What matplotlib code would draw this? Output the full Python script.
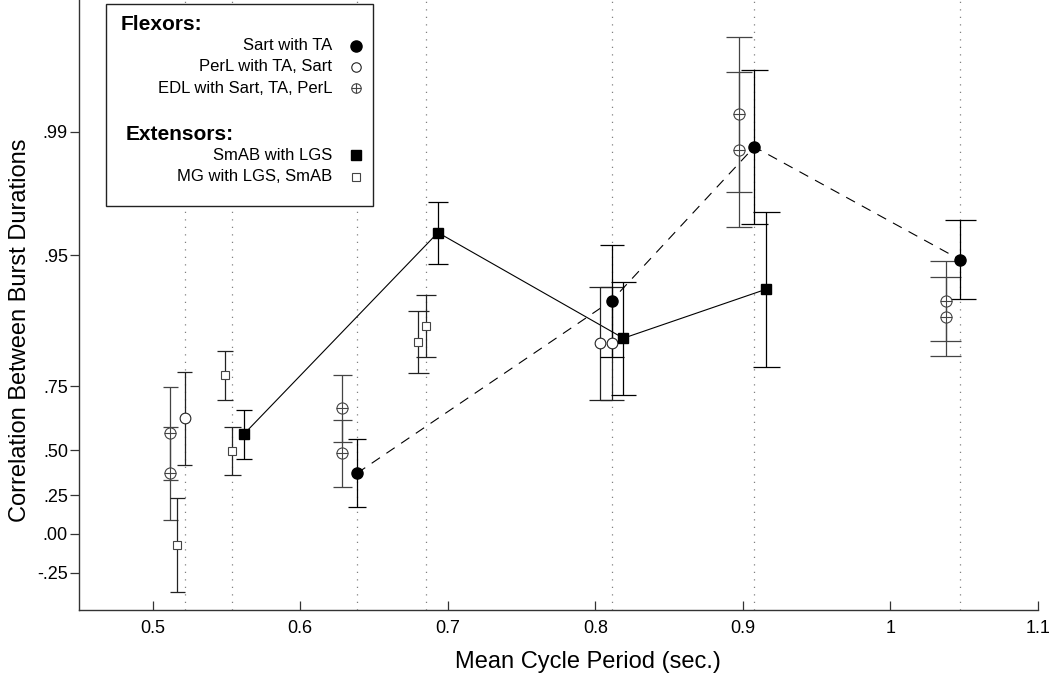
import numpy as np
import matplotlib
matplotlib.use('Agg')
import matplotlib.pyplot as plt
from matplotlib.lines import Line2D
from matplotlib.patches import Rectangle

plt.rcParams['font.family'] = ['Liberation Sans', 'DejaVu Sans']

# mean cycle period (sec.) of each group, shown as dotted guides
group_periods = [0.5217, 0.554, 0.6384, 0.6853, 0.811, 0.9077, 1.0474]

# Flexors
sart_x = [0.6384, 0.811, 0.9077, 1.0474]
sart_r = [0.3794, 0.91125, 0.98778, 0.94708]
sart_lo = [0.1777, 0.82185, 0.96672, 0.91282]
sart_hi = [0.5533, 0.95653, 0.99555, 0.96840]

perl_x = [0.5217, 0.8034, 0.811]
perl_r = [0.6417, 0.84959, 0.84959]
perl_lo = [0.4251, 0.70845, 0.70845]
perl_hi = [0.78788, 0.92564, 0.92564]

edl_x = [0.512, 0.512, 0.6285, 0.6285, 0.8975, 0.8975, 1.0375, 1.0375]
edl_r = [0.5800, 0.3794, 0.6789, 0.4861, 0.99203, 0.98729, 0.91125, 0.89158]
edl_lo = [0.3411, 0.0918, 0.5421, 0.3015, 0.97810, 0.96555, 0.85427, 0.82461]
edl_hi = [0.7465, 0.6081, 0.7803, 0.6351, 0.99710, 0.99539, 0.94617, 0.93400]

# Extensors
smab_x = [0.5617, 0.6933, 0.819, 0.9158]
smab_r = [0.5757, 0.96275, 0.85847, 0.92313]
smab_lo = [0.4569, 0.94409, 0.72332, 0.80072]
smab_hi = [0.6728, 0.97488, 0.92967, 0.97139]

mg_x = [0.5167, 0.5488, 0.554, 0.6801, 0.6853]
mg_r = [-0.0723, 0.77947, 0.4990, 0.85194, 0.87878]
mg_lo = [-0.3623, 0.70718, 0.3682, 0.78458, 0.82314]
mg_hi = [0.2307, 0.83546, 0.6081, 0.89866, 0.91742]

y_ticks = [-0.25, 0.0, 0.25, 0.50, 0.75, 0.95, 0.99]
y_labels = ['-.25', '.00', '.25', '.50', '.75', '.95', '.99']
x_ticks = [0.5, 0.6, 0.7, 0.8, 0.9, 1.0, 1.1]
x_labels = ['0.5', '0.6', '0.7', '0.8', '0.9', '1', '1.1']

W, H = 1052, 677
fig = plt.figure(figsize=(W / 100, H / 100), dpi=100)
ax = fig.add_axes([79 / W, 67 / H, (1038 - 79) / W, 610 / H])

# correlations plotted on a Fisher z scale
ax.set_yscale('function', functions=(np.arctanh, np.tanh))
ax.set_xlim(0.45, 1.1)
ax.set_ylim(-0.462, 0.99822)

for xp in group_periods:
    ax.axvline(xp, color='#808080', lw=0.9, ls=(0, (1, 5)), zorder=0)


def bars(x, lo, hi, color='black'):
    x = np.asarray(x)
    half = 0.01 * x  # cap half-width grows with x
    ax.vlines(x, lo, hi, color=color, lw=0.9, zorder=2)
    ax.hlines(lo, x - half, x + half, color=color, lw=0.9, zorder=2)
    ax.hlines(hi, x - half, x + half, color=color, lw=0.9, zorder=2)


ax.plot(sart_x, sart_r, color='black', lw=0.8, dashes=(9, 7), zorder=1)
ax.plot(smab_x, smab_r, color='black', lw=0.8, zorder=1)

bars(edl_x, edl_lo, edl_hi, '#444444')
bars(perl_x, perl_lo, perl_hi, '#222222')
bars(mg_x, mg_lo, mg_hi, '#222222')
bars(smab_x, smab_lo, smab_hi)
bars(sart_x, sart_lo, sart_hi)

ax.plot(edl_x, edl_r, 'o', ms=8, mfc='white', mec='#444444', mew=0.8, zorder=3)
ax.plot(edl_x, edl_r, '+', ms=8, mec='#444444', mew=0.8, zorder=4)
ax.plot(perl_x, perl_r, 'o', ms=7.7, mfc='white', mec='#222222', mew=0.8, zorder=3)
ax.plot(mg_x, mg_r, 's', ms=6.3, mfc='white', mec='#444444', mew=0.8, zorder=3)
ax.plot(smab_x, smab_r, 's', ms=6.5, color='black', zorder=4)
ax.plot(sart_x, sart_r, 'o', ms=8, color='black', zorder=4)

ax.set_yticks(y_ticks)
ax.set_yticklabels(y_labels)
ax.set_xticks(x_ticks)
ax.set_xticklabels(x_labels)
ax.yaxis.set_minor_locator(matplotlib.ticker.NullLocator())
ax.tick_params(axis='y', direction='out', length=6.5, width=0.9, pad=1.5,
               labelsize=13, color='#333333')
ax.tick_params(axis='x', direction='in', length=6.8, width=0.9, pad=7.5,
               labelsize=13, color='#333333')
for side in ('top', 'right'):
    ax.spines[side].set_visible(False)
for side in ('left', 'bottom'):
    ax.spines[side].set_color('#333333')
    ax.spines[side].set_linewidth(1.0)

ax.set_xlabel('Mean Cycle Period (sec.)', fontsize=17, va='center')
ax.xaxis.set_label_coords((588 - 79) / (1038 - 79), (610 - 662) / 610)
ax.set_ylabel('Correlation Between Burst Durations', fontsize=17, va='center')
ax.yaxis.set_label_coords((20 - 79) / (1038 - 79), (610 - 330) / 610)


def fx(px):
    return px / W


def fy(py):
    return 1 - py / H


# legend box
fig.add_artist(Rectangle((fx(106), fy(206)), fx(373) - fx(106), fy(4) - fy(206),
                         transform=fig.transFigure, fill=True, facecolor='white',
                         edgecolor='#222222', lw=1.0, zorder=5))

fig.text(fx(121), fy(25), 'Flexors:', fontsize=15, fontweight='bold',
         ha='left', va='center', zorder=6)
fig.text(fx(126), fy(135), 'Extensors:', fontsize=15, fontweight='bold',
         ha='left', va='center', zorder=6)

legend_rows = [
    ('Sart with TA', 45.7, dict(marker='o', ms=8, mfc='black', mec='black')),
    ('PerL with TA, Sart', 66.7, dict(marker='o', ms=6.8, mfc='white', mec='#222222', mew=0.8)),
    ('EDL with Sart, TA, PerL', 88.3, dict(marker='o', ms=6.8, mfc='white', mec='#444444', mew=0.8)),
    ('SmAB with LGS', 155, dict(marker='s', ms=6.5, mfc='black', mec='black')),
    ('MG with LGS, SmAB', 176.7, dict(marker='s', ms=6, mfc='white', mec='#444444', mew=0.8)),
]
for label, py, style in legend_rows:
    fig.text(fx(332), fy(py), label, fontsize=12, ha='right', va='center', zorder=6)
    fig.add_artist(Line2D([fx(356)], [fy(py)], transform=fig.transFigure,
                          ls='none', zorder=6, **style))
fig.add_artist(Line2D([fx(356)], [fy(88.3)], transform=fig.transFigure, ls='none',
                      marker='+', ms=6.8, mec='#444444', mew=0.8, zorder=7))

fig.savefig('out.png', dpi=100)
